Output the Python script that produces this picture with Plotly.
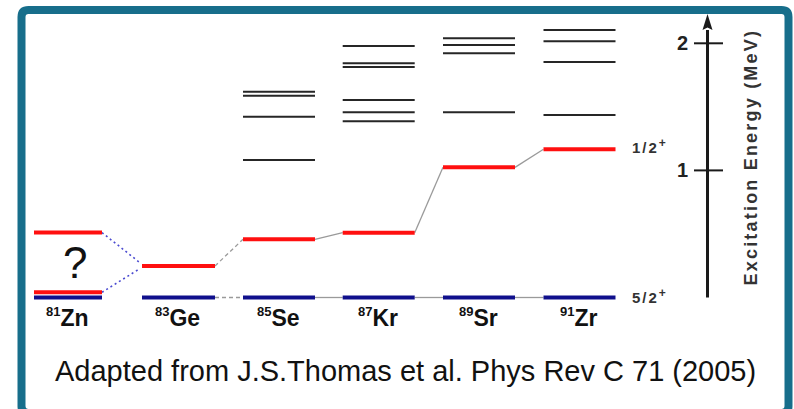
import plotly.graph_objects as go

# ---------------- data (energies in MeV) ----------------
isotopes = ["Zn", "Ge", "Se", "Kr", "Sr", "Zr"]
mass_numbers = ["81", "83", "85", "87", "89", "91"]
ground_52 = [0.0, 0.0, 0.0, 0.0, 0.0, 0.0]            # 5/2+ ground states
level_12 = [None, 0.248, 0.458, 0.510, 1.024, 1.166]   # 1/2+ states
zn_12_candidates = [0.511, 0.041]                      # unknown 81Zn 1/2+ guesses
se_levels = [1.619, 1.588, 1.423, 1.082]
kr_levels = [1.979, 1.843, 1.814, 1.554, 1.457, 1.386]
sr_levels = [2.039, 1.987, 1.921, 1.457]
zr_levels = [2.105, 2.016, 1.853, 1.436]
axis_ticks = [1, 2]
tick_labels = ["1", "2"]
spin_labels = ["1/2", "5/2"]
axis_title = "Excitation Energy (MeV)"
caption = "Adapted from J.S.Thomas et al. Phys Rev C 71 (2005)"

# ---------------- layout constants ----------------
W, H = 794, 409
Y0_PX, PX_PER_MEV = 297.5, 127.1
col_center = [68, 178.5, 279, 378.7, 479, 579.5]
half_w = [34, 36.5, 36, 36, 36, 36]
AXIS_X = 707.5


def py2paper(py):
    return 1 - py / H


def segs(cols, energies):
    xs, ys = [], []
    for c, e in zip(cols, energies):
        if e is None:
            continue
        xs += [col_center[c] - half_w[c], col_center[c] + half_w[c], None]
        ys += [e, e, None]
    return xs, ys


fig = go.Figure()

# connectors between neighbouring columns
def add_conn(i, j, ei, ej, color, dash, width):
    fig.add_trace(go.Scatter(
        x=[col_center[i] + half_w[i], col_center[j] - half_w[j]], y=[ei, ej],
        mode="lines", line=dict(color=color, width=width, dash=dash),
        hoverinfo="skip", showlegend=False))

for i in range(1, 5):
    d = "4px,3px" if i == 1 else "solid"
    add_conn(i, i + 1, ground_52[i], ground_52[i + 1], "#9a9a9a", d, 1.3)
    add_conn(i, i + 1, level_12[i], level_12[i + 1], "#9a9a9a", d, 1.3)
for e in zn_12_candidates:
    fig.add_trace(go.Scatter(
        x=[col_center[0] + half_w[0], col_center[1] - half_w[1] - 3],
        y=[e, level_12[1] + (e - level_12[1]) * 0.12],
        mode="lines", line=dict(color="#4a4ad0", width=1.6, dash="2px,3px"),
        hoverinfo="skip", showlegend=False))

# black excited levels
for c, lv in [(2, se_levels), (3, kr_levels), (4, sr_levels), (5, zr_levels)]:
    xs, ys = segs([c] * len(lv), lv)
    fig.add_trace(go.Scatter(x=xs, y=ys, mode="lines",
                             line=dict(color="#262626", width=2),
                             hoverinfo="skip", showlegend=False))

# 1/2+ levels (red)
xs, ys = segs(range(6), level_12)
zx, zy = segs([0, 0], zn_12_candidates)
fig.add_trace(go.Scatter(x=xs + zx, y=ys + zy, mode="lines",
                         line=dict(color="#ff1010", width=4),
                         hoverinfo="skip", showlegend=False))

# 5/2+ ground states (blue)
xs, ys = segs(range(6), ground_52)
fig.add_trace(go.Scatter(x=xs, y=ys, mode="lines",
                         line=dict(color="#10108c", width=4),
                         hoverinfo="skip", showlegend=False))

# energy axis with arrow
tip_e = (Y0_PX - 14) / PX_PER_MEV
base_e = (Y0_PX - 30) / PX_PER_MEV
fig.add_trace(go.Scatter(x=[AXIS_X, AXIS_X], y=[0, base_e], mode="lines",
                         line=dict(color="#1a1a1a", width=3),
                         hoverinfo="skip", showlegend=False))
shapes = [dict(type="path", xref="x", yref="y",
               path=f"M {AXIS_X-5},{base_e} L {AXIS_X},{tip_e} L {AXIS_X+5},{base_e} L {AXIS_X},{base_e+0.02} Z",
               fillcolor="#1a1a1a", line=dict(width=0))]
for t in axis_ticks:
    shapes.append(dict(type="line", xref="x", yref="y", x0=AXIS_X - 13.5, x1=AXIS_X + 15.5,
                       y0=t, y1=t, line=dict(color="#1a1a1a", width=2)))

annotations = []


def ann(x, y, text, size, color="#111", yref="paper", **kw):
    d = dict(x=x, y=y, xref="x", yref=yref, text=text, showarrow=False,
             xanchor=kw.pop("xanchor", "center"), yanchor="middle",
             font=dict(size=size, color=color))
    d.update(kw)
    annotations.append(d)


for t, lab in zip(axis_ticks, tick_labels):
    ann(682, t, f"<b>{lab}</b>", 20, "#222", yref="y")

# frame
L, T, R, B, r = 21.5, 10, 788.5, 413, 7
def P(x, y):
    return f"{x / W},{py2paper(y)}"
frame = (f"M {P(L, T + r)} Q {P(L, T)} {P(L + r, T)} L {P(R - r, T)} Q {P(R, T)} {P(R, T + r)} "
         f"L {P(R, B - r)} Q {P(R, B)} {P(R - r, B)} L {P(L + r, B)} Q {P(L, B)} {P(L, B - r)} Z")
shapes.append(dict(type="path", xref="paper", yref="paper", path=frame,
                   line=dict(color="#176e8b", width=8)))

# spin labels
spin_fmt = ("<b><span style='letter-spacing:2px'>{}</span>"
            "<sup><span style='font-size:12px'>+</span></sup></b>")
ann(630, level_12[5], spin_fmt.format(spin_labels[0]), 15, "#333", yref="y",
    xanchor="left", yshift=3)
ann(630, ground_52[5], spin_fmt.format(spin_labels[1]), 15, "#333", yref="y",
    xanchor="left", yshift=2)

# isotope labels
for c, (m, s) in enumerate(zip(mass_numbers, isotopes)):
    ann(col_center[c] - 1, py2paper(317),
        f"<b><sup><span style='font-size:13px'>{m}</span></sup>{s}</b>", 23)

# question mark
ann(75, py2paper(262), "?", 44)

# axis title
ann(750.5, py2paper(157), f"<b><span style='letter-spacing:2.2px'>{axis_title}</span></b>",
    18, "#333", textangle=-90)

# caption
ann(405.5, py2paper(371), caption, 29)

fig.update_layout(
    width=W, height=H, margin=dict(l=0, r=0, t=0, b=0),
    paper_bgcolor="white", plot_bgcolor="white",
    font=dict(family="Liberation Sans, Arial, sans-serif"),
    xaxis=dict(range=[0, W], visible=False, fixedrange=True),
    yaxis=dict(range=[(Y0_PX - H) / PX_PER_MEV, Y0_PX / PX_PER_MEV], visible=False, fixedrange=True),
    shapes=shapes, annotations=annotations, showlegend=False,
)

fig.write_html("out.html")
